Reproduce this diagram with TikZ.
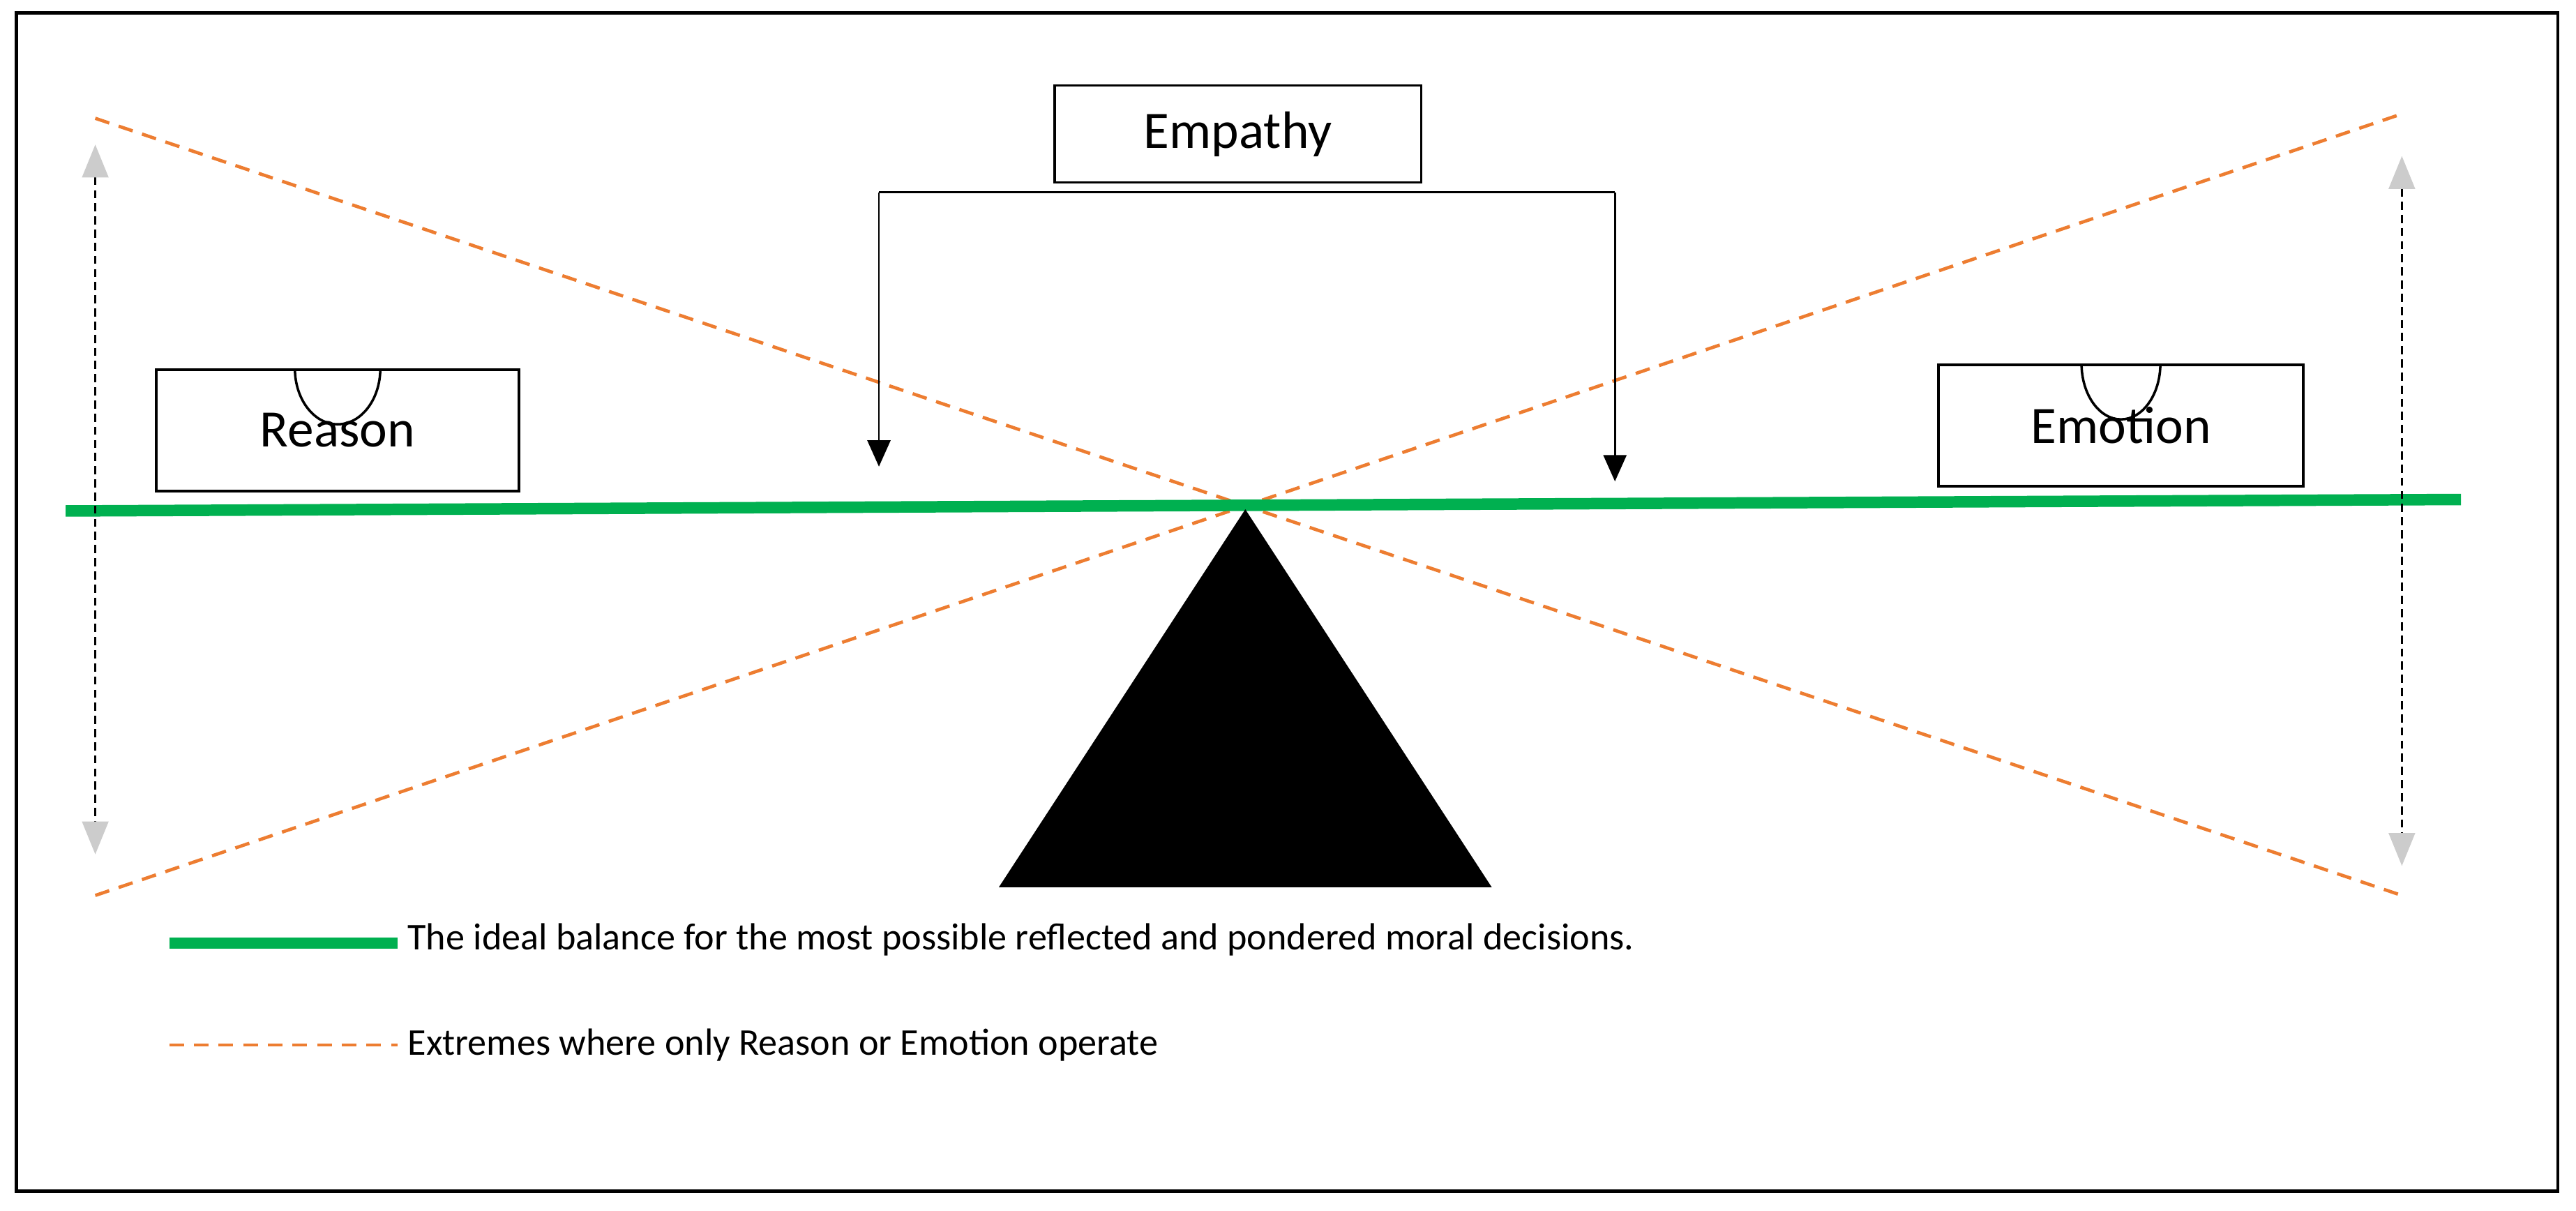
\documentclass[tikz,border=0pt]{standalone}
\usepackage{fontspec}
\setmainfont{Carlito}
\usetikzlibrary{arrows.meta}
\begin{document}
\begin{tikzpicture}[x=1pt,y=-1pt,
  box/.style={draw,line width=1.5pt,inner sep=0pt,font=\fontsize{32}{38}\selectfont},
  orange/.style={draw={rgb,255:red,237;green,125;blue,49},line width=2pt,dash pattern=on 9pt off 6pt},
  green/.style={draw={rgb,255:red,0;green,176;blue,80},line width=7pt},
  garrow/.style={{Triangle[length=20pt,width=16pt,fill=gray!40,color=gray!40]}-{Triangle[length=20pt,width=16pt,fill=gray!40,color=gray!40]},black,line width=1.2pt,dash pattern=on 5pt off 3pt},
  barrow/.style={-{Triangle[length=16pt,width=14pt]},line width=1.2pt}]
\useasboundingbox (0,0) rectangle (1568,737);
\draw[line width=2pt] (10,8) rectangle (1557,725);
% orange extremes
\coordinate (o1) at (58,72); \coordinate (o2) at (1462,545);
\coordinate (o3) at (58,545); \coordinate (o4) at (1460,70);
\draw[orange] (o1) -- (o2);
\draw[orange] (o3) -- (o4);
% green beam
\coordinate (g1) at (40,311); \coordinate (g2) at (1498,304);
\draw[green] (g1) -- (g2);
% fulcrum
\fill (758,310) -- (908,540) -- (608,540) -- cycle;
% boxes
\node[box,minimum width=221pt,minimum height=74pt] (reason) at (205.5,262) {Reason};
\node[box,minimum width=222pt,minimum height=74pt] (emotion) at (1291,259) {Emotion};
\node[box,minimum width=223pt,minimum height=59pt] (empathy) at (753.5,81.5) {Empathy};
\draw[line width=1.5pt] (reason.north) ++(-26,0) arc (180:0:26 and 34);
\draw[line width=1.5pt] (emotion.north) ++(-24,0) arc (180:0:24 and 34);
% empathy bracket
\coordinate (b1) at (535,117); \coordinate (b2) at (983,117);
\coordinate (a1) at (535,284); \coordinate (a2) at (983,293);
\draw[line width=1.2pt] (b1) -- (b2);
\draw[barrow] (b1) -- (a1);
\draw[barrow] (b2) -- (a2);
% gray range arrows
\coordinate (l1) at (58,88); \coordinate (l2) at (58,520);
\coordinate (r1) at (1462,95); \coordinate (r2) at (1462,527);
\draw[garrow] (l1) -- (l2);
\draw[garrow] (r1) -- (r2);
% legend
\coordinate (k1) at (103,574); \coordinate (k2) at (242,574);
\coordinate (k3) at (103,636); \coordinate (k4) at (242,636);
\draw[green] (k1) -- (k2);
\draw[orange] (k3) -- (k4);
\node[anchor=north west,inner sep=0pt,text width=885pt,align=justify,font=\fontsize{23}{32}\selectfont] (t1) at (248,562) {The ideal balance for the most possible reflected and pondered moral decisions.};
\node[anchor=west,inner sep=0pt,font=\fontsize{23}{28}\selectfont] (t2) at (248,636) {Extremes where only Reason or Emotion operate};
\end{tikzpicture}
\end{document}
